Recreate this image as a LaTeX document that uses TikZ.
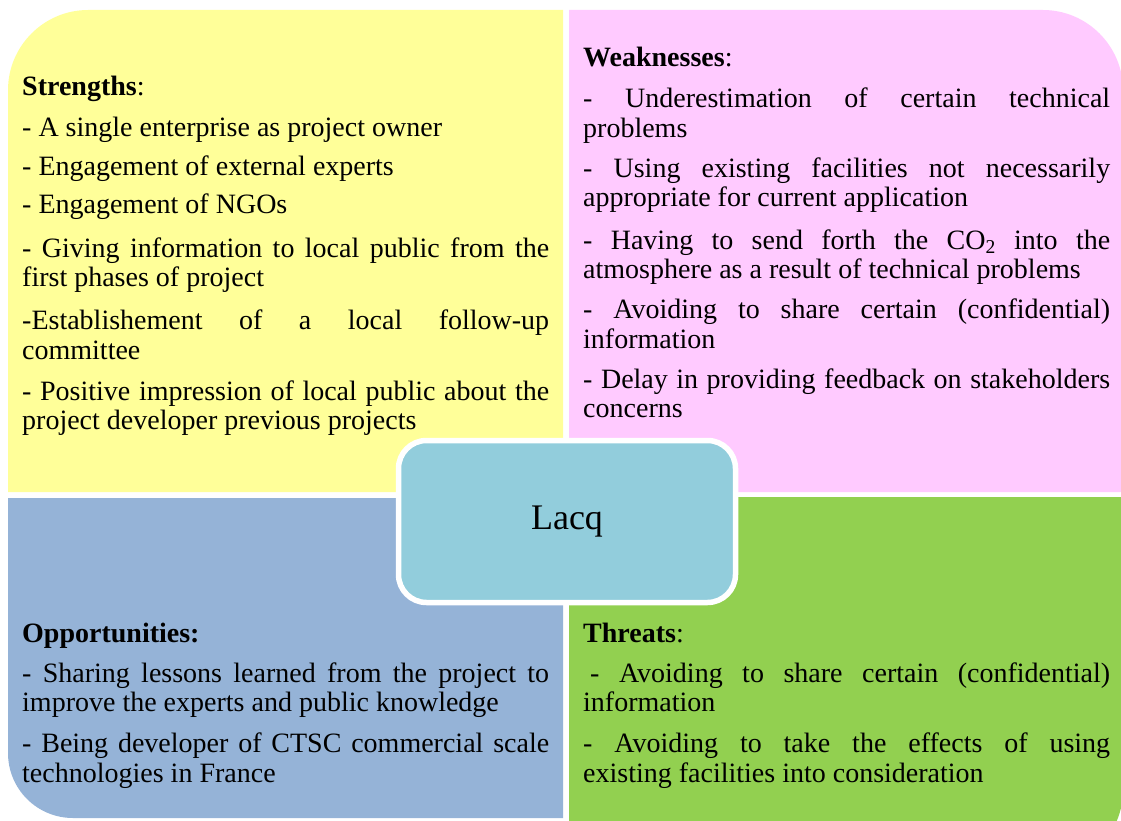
\documentclass[tikz,border=0pt]{standalone}
\usepackage{fontspec}
\setmainfont{Liberation Serif}
\definecolor{qyellow}{HTML}{FFFF99}
\definecolor{qpink}{HTML}{FFCAFF}
\definecolor{qblue}{HTML}{95B3D7}
\definecolor{qgreen}{HTML}{92D050}
\definecolor{qcenter}{HTML}{92CDDC}
\newcommand{\qsetup}{\setlength{\parindent}{0pt}\hyphenpenalty=10000\exhyphenpenalty=10000\tolerance=10000}
\begin{document}
\begin{tikzpicture}[x=1pt,y=-1pt,
  quadtext/.style={anchor=base west,inner sep=0pt,text width=527pt,align=justify,
    font=\fontsize{28}{29.5}\selectfont},
  quadhead/.style={anchor=base west,inner sep=0pt,font=\fontsize{28}{29.5}\selectfont},
  centerbox/.style={draw=white,line width=5.5pt,fill=qcenter,rounded corners=28pt,
    minimum width=337pt,minimum height=162pt,inner sep=0pt,
    font=\fontsize{36}{40}\selectfont}]
\useasboundingbox (0,0) rectangle (1121,821);
\clip (0,0) rectangle (1121,821);
% quadrants
\fill[qyellow] (8,492) -- (8,90) .. controls (8,46) and (44,10) .. (88,10) -- (563,10) -- (563,492) -- cycle;
\fill[qpink] (569,10) -- (1043,10) .. controls (1087,10) and (1123,46) .. (1123,90) -- (1123,492) -- (569,492) -- cycle;
\fill[qblue] (8,498) -- (563,498) -- (563,818) -- (73,818) .. controls (37,818) and (8,789) .. (8,753) -- cycle;
\fill[qgreen] (569,497) -- (1123,497) -- (1123,790) .. controls (1123,834) and (1087,870) .. (1043,870) -- (569,870) -- cycle;
% Strengths
\node[quadhead] (sh) at (22,96) {\textbf{Strengths}:};
\node[quadtext] (s1) at (22,137) {\qsetup - A single enterprise as project owner};
\node[quadtext] (s2) at (22,176) {\qsetup - Engagement of external experts};
\node[quadtext] (s3) at (22,214) {\qsetup - Engagement of NGOs};
\node[quadtext] (s4) at (22,257) {\qsetup - Giving information to local public from the\linebreak first phases of project};
\node[quadtext] (s5) at (22,329.5) {\qsetup -Establishement of a local follow-up\linebreak committee};
\node[quadtext] (s6) at (22,400) {\qsetup - Positive impression of local public about the\linebreak project developer previous projects};
% Weaknesses
\node[quadhead] (wh) at (583,67) {\textbf{Weaknesses}:};
\node[quadtext] (w1) at (583,108) {\qsetup - Underestimation of certain technical\linebreak problems};
\node[quadtext] (w2) at (583,177.5) {\qsetup - Using existing facilities not necessarily\linebreak appropriate for current application};
\node[quadtext] (w3) at (583,249) {\qsetup - Having to send forth the CO\textsubscript{2} into the\linebreak atmosphere as a result of technical problems};
\node[quadtext] (w4) at (583,318.5) {\qsetup - Avoiding to share certain (confidential)\linebreak information};
\node[quadtext] (w5) at (583,388) {\qsetup - Delay in providing feedback on stakeholders\linebreak concerns};
% Opportunities
\node[quadhead] (oh) at (22,642) {\textbf{Opportunities:}};
\node[quadtext] (o1) at (22,682) {\qsetup - Sharing lessons learned from the project to\linebreak improve the experts and public knowledge};
\node[quadtext] (o2) at (22,752.5) {\qsetup - Being developer of CTSC commercial scale\linebreak technologies in France};
% Threats
\node[quadhead] (th) at (583,642) {\textbf{Threats}:};
\node[quadtext] (t1) at (583,682) {\qsetup \hspace*{7pt}- Avoiding to share certain (confidential)\linebreak information};
\node[quadtext] (t2) at (583,752.5) {\qsetup - Avoiding to take the effects of using\linebreak existing facilities into consideration};
% center
\node[centerbox] (lacq) at (567,521.5) {Lacq};
\end{tikzpicture}
\end{document}
